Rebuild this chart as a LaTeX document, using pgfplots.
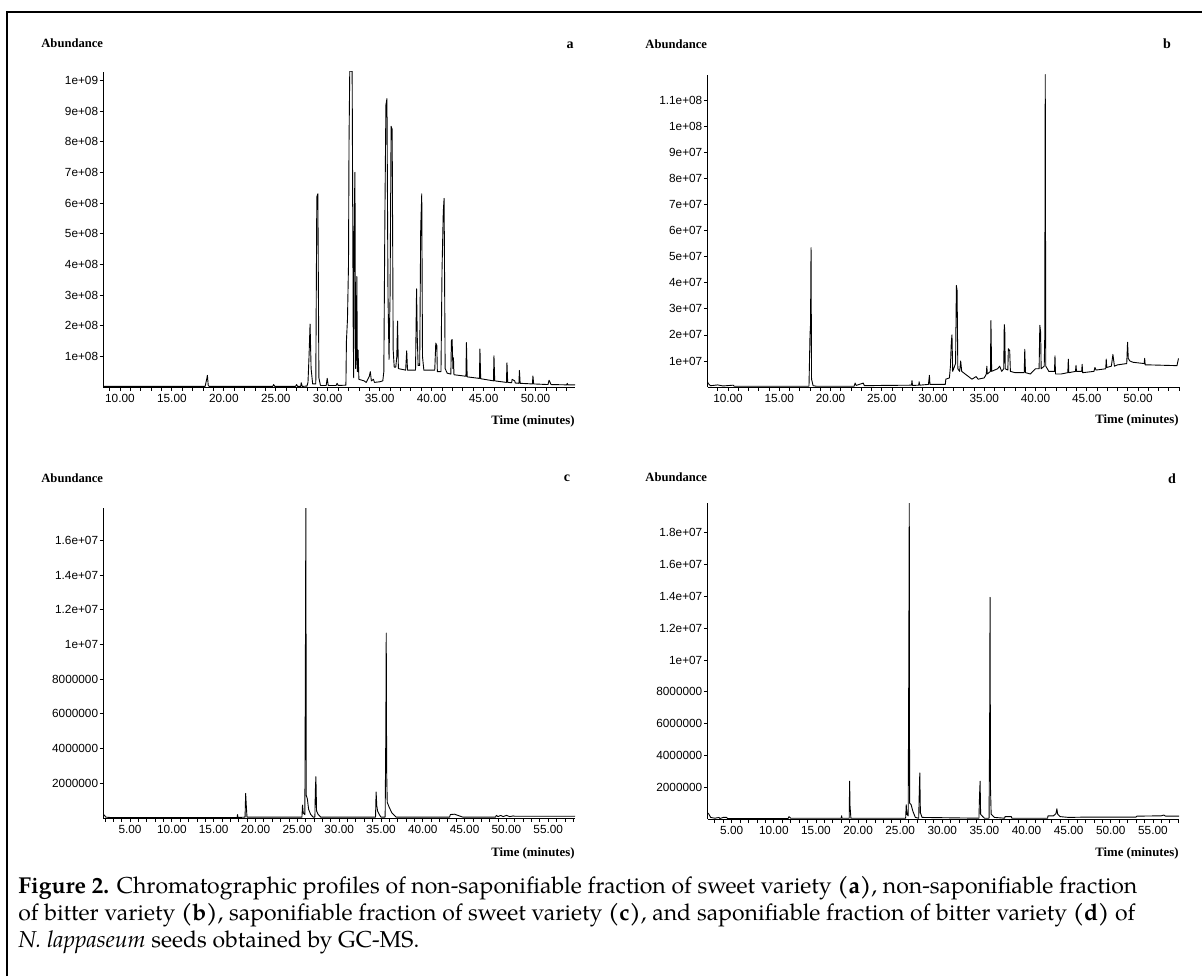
\documentclass[border=0pt]{standalone}
\usepackage{fontspec}
\usepackage{pgfplots}
\pgfplotsset{compat=1.18}
\newfontfamily\arialf{Liberation Sans}
\newfontfamily\timesf{Liberation Serif}
\newfontfamily\palfont{texgyrepagella}[Extension=.otf, UprightFont=*-regular,
  BoldFont=*-bold, ItalicFont=*-italic, BoldItalicFont=*-bolditalic]

\pgfplotsset{
  chrom/.style={
    scale only axis, anchor=south west,
    axis lines=left, axis line style={-, line width=0.5pt},
    tick align=outside, major tick length=1.8pt, minor tick length=1.8pt,
    tick style={line width=0.4pt, black},
    ticklabel style={font=\arialf\fontsize{5.9}{6}\selectfont},
    yticklabel style={inner sep=0.6pt},
    xticklabel style={inner sep=1.8pt},
    scaled y ticks=false,
    clip=true,
  },
  trace/.style={black, line width=0.45pt, line join=round},
}

\begin{document}
\begin{tikzpicture}
\path[use as bounding box] (0pt,0pt) rectangle (601pt,488pt);
% frame of the figure
\draw[line width=1pt] (3.5pt,0pt) -- (3.5pt,482pt) -- (601pt,482pt);

% ---------------- a ----------------
\begin{axis}[chrom, at={(51.65pt,294.5pt)}, width=235.85pt, height=157.5pt,
  xmin=8.4, xmax=53.8, ymin=0, ymax=1.027e9,
  xtick={10,15,...,50}, xticklabels={10.00,15.00,20.00,25.00,30.00,35.00,40.00,45.00,50.00},
  minor xtick={9,...,53},
  ytick={1e8,2e8,3e8,4e8,5e8,6e8,7e8,8e8,9e8,1e9},
  yticklabels={1e+08,2e+08,3e+08,4e+08,5e+08,6e+08,7e+08,8e+08,9e+08,1e+09}]
\addplot[trace] coordinates {
(8.4,0.02e8)(18.2,0.02e8)(18.35,0.25e8)(18.42,0.38e8)(18.5,0.05e8)(18.6,0.02e8)
(24.7,0.02e8)(24.8,0.08e8)(24.9,0.02e8)(26.9,0.02e8)(27.0,0.08e8)(27.1,0.02e8)
(27.4,0.02e8)(27.45,0.14e8)(27.55,0.02e8)
(28.0,0.03e8)(28.1,0.15e8)(28.2,1.0e8)(28.3,2.05e8)(28.4,0.6e8)(28.55,0.1e8)
(28.85,0.1e8)(28.95,6.2e8)(29.05,6.3e8)(29.15,0.3e8)(29.3,0.05e8)
(29.85,0.05e8)(29.95,0.28e8)(30.05,0.05e8)(30.8,0.05e8)(30.9,0.12e8)(31.0,0.05e8)
(31.75,0.06e8)(31.8,1.5e8)(31.9,2.2e8)(32.0,4.0e8)(32.05,8.0e8)(32.12,10.3e8)(32.35,10.3e8)(32.45,2.0e8)(32.5,0.3e8)
(32.55,5.5e8)(32.62,7.0e8)(32.68,0.6e8)(32.75,1.0e8)(32.8,3.6e8)(32.86,0.5e8)(32.92,1.2e8)(33.0,0.25e8)
(33.5,0.2e8)(33.7,0.15e8)(34.0,0.35e8)(34.1,0.5e8)(34.2,0.2e8)(34.4,0.25e8)(34.5,0.15e8)(35.0,0.17e8)(35.3,0.2e8)
(35.4,0.5e8)(35.5,5.5e8)(35.6,9.2e8)(35.7,9.4e8)(35.8,3.0e8)(35.9,0.9e8)(36.0,3.0e8)(36.1,8.5e8)(36.2,8.4e8)(36.3,1.2e8)(36.4,0.65e8)(36.55,0.65e8)
(36.65,1.0e8)(36.72,2.15e8)(36.8,0.6e8)(37.5,0.55e8)(37.6,1.18e8)(37.68,0.55e8)
(38.45,0.55e8)(38.55,3.2e8)(38.62,1.6e8)(38.7,0.7e8)(38.85,0.7e8)(38.95,5.2e8)(39.05,6.3e8)(39.12,1.0e8)(39.25,0.55e8)
(40.3,0.55e8)(40.4,1.43e8)(40.5,1.35e8)(40.55,0.5e8)
(40.9,0.5e8)(41.0,3.8e8)(41.12,5.7e8)(41.2,6.15e8)(41.3,0.6e8)(41.5,0.45e8)
(41.85,0.42e8)(41.9,1.5e8)(41.97,1.55e8)(42.05,0.6e8)(42.1,0.95e8)(42.15,0.4e8)
(43.3,0.35e8)(43.35,1.45e8)(43.42,0.33e8)(44.6,0.28e8)(44.65,1.24e8)(44.72,0.27e8)
(45.95,0.2e8)(46.0,1.02e8)(46.07,0.2e8)(47.2,0.15e8)(47.25,0.79e8)(47.32,0.15e8)
(47.7,0.14e8)(47.75,0.25e8)(48.0,0.2e8)(48.05,0.13e8)(48.4,0.12e8)(48.45,0.54e8)(48.52,0.12e8)
(49.7,0.1e8)(49.75,0.36e8)(49.82,0.1e8)(51.2,0.08e8)(51.3,0.22e8)(51.5,0.08e8)
(53.0,0.07e8)(53.05,0.12e8)(53.1,0.07e8)(53.8,0.07e8)
};
\end{axis}

% ---------------- b ----------------
\begin{axis}[chrom, at={(353.75pt,294.5pt)}, width=235.75pt, height=156pt,
  xmin=8.0, xmax=54.0, ymin=0, ymax=1.198e8,
  xtick={10,15,...,50}, xticklabels={10.00,15.00,20.00,25.00,30.00,35.00,40.00,45.00,50.00},
  minor xtick={9,...,54},
  ytick={1e7,2e7,3e7,4e7,5e7,6e7,7e7,8e7,9e7,1e8,1.1e8},
  yticklabels={1e+07,2e+07,3e+07,4e+07,5e+07,6e+07,7e+07,8e+07,9e+07,1e+08,1.1e+08}]
\addplot[trace] coordinates {
(8.0,0.2e7)(8.1,0.12e7)(8.3,0.05e7)(9,0.08e7)(9.5,0.04e7)(10.5,0.07e7)(10.6,0.03e7)
(17.9,0.03e7)(18.0,2.0e7)(18.05,2.4e7)(18.1,5.35e7)(18.15,0.3e7)(18.3,0.05e7)(18.6,0.03e7)
(22.3,0.03e7)(22.4,0.15e7)(22.5,0.06e7)(23.2,0.15e7)(23.3,0.05e7)(25,0.06e7)(27.9,0.07e7)(27.95,0.25e7)(28.0,0.06e7)
(28.6,0.07e7)(28.65,0.2e7)(28.7,0.07e7)(29.55,0.1e7)(29.65,0.45e7)(29.7,0.1e7)(31.2,0.1e7)(31.25,0.3e7)
(31.6,0.35e7)(31.7,0.8e7)(31.78,1.7e7)(31.85,2.0e7)(31.92,0.6e7)(32.2,0.9e7)(32.28,3.9e7)(32.35,3.7e7)(32.42,0.7e7)
(32.6,0.6e7)(32.7,1.0e7)(32.8,0.6e7)(33.3,0.45e7)(33.8,0.3e7)(34.2,0.4e7)(34.4,0.3e7)(35.0,0.35e7)(35.2,0.5e7)(35.25,0.8e7)(35.3,0.5e7)
(35.6,0.6e7)(35.65,2.55e7)(35.72,0.6e7)(36.0,0.65e7)(36.3,0.7e7)(36.5,0.8e7)(36.7,0.6e7)
(36.9,0.7e7)(36.95,2.4e7)(37.0,2.2e7)(37.05,0.7e7)(37.3,0.65e7)(37.35,1.47e7)(37.48,1.4e7)(37.55,0.6e7)
(38.0,0.55e7)(38.9,0.55e7)(38.95,1.45e7)(39.02,0.55e7)(39.5,0.5e7)(40.0,0.7e7)(40.35,0.7e7)(40.42,2.37e7)(40.5,2.1e7)(40.55,0.7e7)
(40.85,0.8e7)(40.9,1.9e7)(40.95,12.0e7)(41.0,0.8e7)(41.3,0.6e7)(41.85,0.6e7)(41.9,1.2e7)(41.95,0.5e7)
(42.5,0.5e7)(43.15,0.55e7)(43.2,1.07e7)(43.25,0.55e7)(43.9,0.6e7)(43.95,0.83e7)(44.0,0.6e7)(44.5,0.6e7)(44.55,0.87e7)(44.6,0.55e7)
(45.7,0.6e7)(45.8,0.75e7)(45.9,0.65e7)(46.85,0.7e7)(46.9,1.07e7)(46.95,0.75e7)(47.4,0.8e7)(47.55,1.25e7)(47.7,0.8e7)
(48.0,0.85e7)(48.9,0.9e7)(48.98,1.72e7)(49.05,1.1e7)(49.2,1.0e7)(49.5,0.95e7)(50.6,0.9e7)(50.65,1.1e7)(50.7,0.85e7)
(51.0,0.85e7)(53.8,0.82e7)(53.95,1.1e7)
};
\end{axis}

% ---------------- c ----------------
\begin{axis}[chrom, at={(51.65pt,79pt)}, width=235.85pt, height=155pt,
  xmin=1.8, xmax=58.2, ymin=0, ymax=1.786e7,
  xtick={5,10,...,55}, xticklabels={5.00,10.00,15.00,20.00,25.00,30.00,35.00,40.00,45.00,50.00,55.00},
  minor xtick={2,...,58},
  ytick={2e6,4e6,6e6,8e6,1e7,1.2e7,1.4e7,1.6e7},
  yticklabels={2000000,4000000,6000000,8000000,1e+07,1.2e+07,1.4e+07,1.6e+07}]
\addplot[trace] coordinates {
(1.8,0.2e6)(1.95,0.15e6)(2.1,0.05e6)(2.6,0.03e6)
(17.8,0.03e6)(17.85,0.2e6)(17.9,0.03e6)
(18.75,0.05e6)(18.82,1.42e6)(18.9,0.7e6)(18.98,0.05e6)
(25.55,0.05e6)(25.62,0.75e6)(25.7,0.3e6)(25.9,0.2e6)(25.97,9.95e6)(26.02,18.0e6)(26.07,1.3e6)(26.2,1.1e6)(26.35,0.5e6)(26.6,0.2e6)(26.9,0.05e6)
(27.1,0.05e6)(27.15,1.5e6)(27.22,2.38e6)(27.3,0.4e6)(27.5,0.2e6)(27.8,0.05e6)
(34.35,0.05e6)(34.42,1.5e6)(34.5,0.7e6)(34.6,0.4e6)(34.8,0.2e6)(35.0,0.05e6)
(35.5,0.05e6)(35.58,4.9e6)(35.63,10.66e6)(35.68,2.7e6)(35.75,0.9e6)(36.0,0.6e6)(36.3,0.3e6)(36.8,0.05e6)
(43.2,0.05e6)(43.3,0.2e6)(43.8,0.22e6)(44.2,0.15e6)(44.8,0.05e6)
(48.7,0.05e6)(48.8,0.15e6)(49.0,0.08e6)(49.3,0.15e6)(49.6,0.08e6)(50.0,0.15e6)(50.4,0.08e6)(50.8,0.12e6)(51.0,0.1e6)
(58.2,0.1e6)
};
\end{axis}

% ---------------- d ----------------
\begin{axis}[chrom, at={(353.75pt,78.5pt)}, width=235.75pt, height=158pt,
  xmin=2.13, xmax=58.1, ymin=0, ymax=1.988e7,
  xtick={5,10,...,55}, xticklabels={5.00,10.00,15.00,20.00,25.00,30.00,35.00,40.00,45.00,50.00,55.00},
  minor xtick={3,...,58},
  ytick={2e6,4e6,6e6,8e6,1e7,1.2e7,1.4e7,1.6e7,1.8e7},
  yticklabels={2000000,4000000,6000000,8000000,1e+07,1.2e+07,1.4e+07,1.6e+07,1.8e+07}]
\addplot[trace] coordinates {
(2.13,0.4e6)(2.3,0.3e6)(2.5,0.1e6)(3.0,0.05e6)(3.5,0.1e6)(3.6,0.03e6)(4.0,0.1e6)(4.4,0.1e6)(4.5,0.03e6)
(11.7,0.03e6)(11.8,0.15e6)(12.0,0.05e6)(18.0,0.05e6)(18.05,0.2e6)(18.1,0.05e6)
(18.95,0.05e6)(19.0,2.38e6)(19.05,0.8e6)(19.15,0.05e6)
(25.65,0.05e6)(25.72,0.9e6)(25.8,0.3e6)(25.95,0.2e6)(26.02,9.3e6)(26.08,19.9e6)(26.12,1.0e6)(26.3,0.9e6)(26.5,0.5e6)(26.8,0.1e6)
(27.2,0.05e6)(27.27,1.75e6)(27.33,2.9e6)(27.4,0.4e6)(27.6,0.1e6)
(34.35,0.05e6)(34.42,1.45e6)(34.49,2.38e6)(34.55,0.3e6)(34.8,0.15e6)(35.0,0.05e6)
(35.55,0.05e6)(35.62,5.5e6)(35.67,13.95e6)(35.72,2.0e6)(35.8,0.3e6)(36.2,0.1e6)
(37.4,0.05e6)(37.45,0.15e6)(38.2,0.15e6)(38.25,0.05e6)
(42.5,0.05e6)(42.55,0.2e6)(43.2,0.2e6)(43.5,0.35e6)(43.6,0.64e6)(43.7,0.3e6)(44.0,0.15e6)(45,0.1e6)
(47,0.12e6)(53,0.12e6)(53.1,0.18e6)(56,0.2e6)(56.3,0.25e6)(56.5,0.18e6)(58.1,0.18e6)
};
\end{axis}

% panel titles and axis names
\begin{scope}[every node/.style={inner sep=0pt}]
\node[anchor=west] at (20.5pt,466.5pt) {\timesf\bfseries\fontsize{6.3}{7}\selectfont Abundance};
\node[anchor=west] at (322.5pt,466pt) {\timesf\bfseries\fontsize{6.3}{7}\selectfont Abundance};
\node[anchor=west] at (20.5pt,249pt) {\timesf\bfseries\fontsize{6.3}{7}\selectfont Abundance};
\node[anchor=west] at (322.5pt,249.5pt) {\timesf\bfseries\fontsize{6.3}{7}\selectfont Abundance};
\node at (285pt,465.5pt) {\timesf\bfseries\fontsize{7}{8}\selectfont a};
\node at (583.5pt,466pt) {\timesf\bfseries\fontsize{7}{8}\selectfont b};
\node at (283.5pt,249pt) {\timesf\bfseries\fontsize{7}{8}\selectfont c};
\node at (586pt,248.5pt) {\timesf\bfseries\fontsize{7}{8}\selectfont d};
\node[anchor=east] at (287.5pt,277.5pt) {\timesf\bfseries\fontsize{6.4}{7}\selectfont Time (minutes)};
\node[anchor=east] at (589.5pt,278pt) {\timesf\bfseries\fontsize{6.4}{7}\selectfont Time (minutes)};
\node[anchor=east] at (287.5pt,61.5pt) {\timesf\bfseries\fontsize{6.4}{7}\selectfont Time (minutes)};
\node[anchor=east] at (589.5pt,61.5pt) {\timesf\bfseries\fontsize{6.4}{7}\selectfont Time (minutes)};
% caption
\node[anchor=base west] at (9pt,41.5pt) {\palfont\fontsize{11.5}{13}\selectfont\textbf{Figure 2.} Chromatographic profiles of non-saponifiable fraction of sweet variety \textbf{(a)}, non-saponifiable fraction};
\node[anchor=base west] at (9pt,28pt) {\palfont\fontsize{11.5}{13}\selectfont of bitter variety \textbf{(b)}, saponifiable fraction of sweet variety \textbf{(c)}, and saponifiable fraction of bitter variety \textbf{(d)} of};
\node[anchor=base west] at (9pt,14.5pt) {\palfont\fontsize{11.5}{13}\selectfont\textit{N. lappaseum} seeds obtained by GC-MS.};
\end{scope}
\end{tikzpicture}
\end{document}
